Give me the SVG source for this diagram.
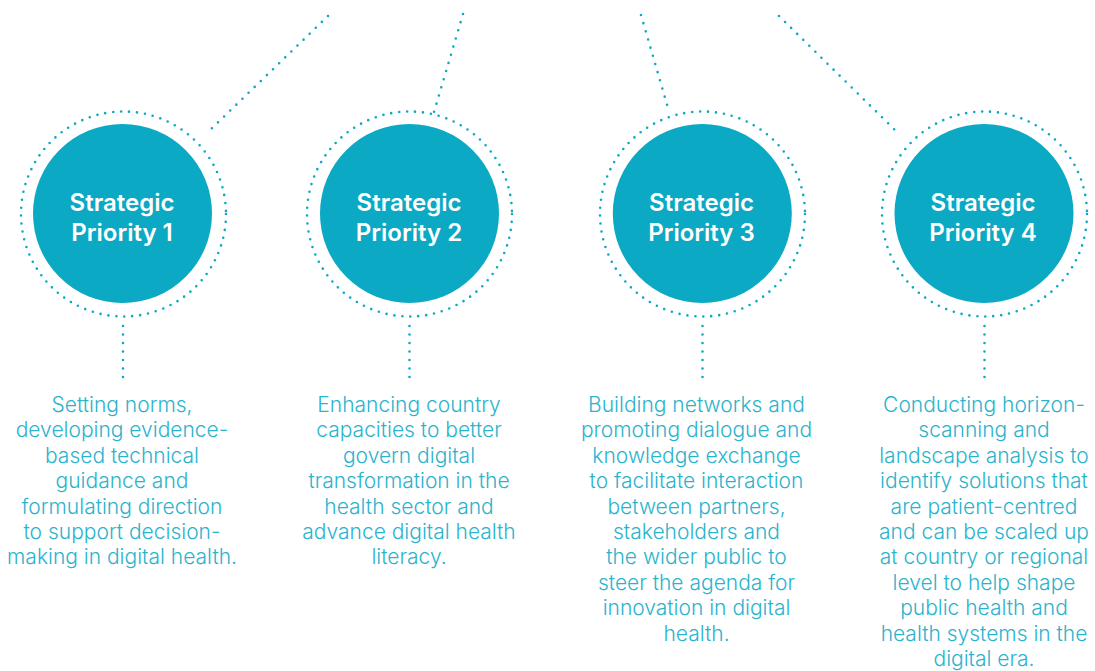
<svg xmlns="http://www.w3.org/2000/svg" width="1095" height="671" viewBox="0 0 1095 671">
<style>
.disc{fill:#0ba9c4}
.ring{fill:none;stroke:#0ba9c4;stroke-width:2.6;stroke-linecap:round;stroke-dasharray:0 8}
.dot{fill:none;stroke:#0ba9c4;stroke-width:2.6;stroke-linecap:round;stroke-dasharray:0 8.5}
.title{font-family:Inter,"Liberation Sans",sans-serif;font-weight:600;font-size:24px;fill:#ffffff;text-anchor:middle}
.body{font-family:Inter,"Liberation Sans",sans-serif;font-weight:300;font-size:21px;fill:#2bb3cd;text-anchor:middle}
</style>
<rect width="1095" height="671" fill="#ffffff"/>
<g id="connectors">
<line class="dot" x1="328" y1="16" x2="207" y2="133"/>
<line class="dot" x1="463" y1="14" x2="434" y2="112"/>
<line class="dot" x1="641" y1="15" x2="668" y2="108"/>
<line class="dot" x1="779" y1="16" x2="899" y2="134"/>
<line class="dot" x1="123" y1="326" x2="123" y2="378"/>
<line class="dot" x1="409.5" y1="326" x2="409.5" y2="378"/>
<line class="dot" x1="702.5" y1="326" x2="702.5" y2="378"/>
<line class="dot" x1="984.5" y1="326" x2="984.5" y2="378"/>
</g>
<g id="sp1">
<circle class="ring" cx="123.5" cy="214" r="102.5"/>
<circle class="disc" cx="122.5" cy="213.5" r="89.5"/>
<text class="title" x="122" y="211">Strategic</text>
<text class="title" x="122" y="240.5">Priority 1</text>
</g>
<g id="sp2">
<circle class="ring" cx="409.5" cy="214" r="102.5"/>
<circle class="disc" cx="409.5" cy="213.5" r="89.5"/>
<text class="title" x="409" y="211">Strategic</text>
<text class="title" x="409" y="240.5">Priority 2</text>
</g>
<g id="sp3">
<circle class="ring" cx="702.5" cy="214" r="102.5"/>
<circle class="disc" cx="702.3" cy="213.5" r="89.5"/>
<text class="title" x="701.5" y="211">Strategic</text>
<text class="title" x="701.5" y="240.5">Priority 3</text>
</g>
<g id="sp4">
<circle class="ring" cx="984.5" cy="214" r="102.5"/>
<circle class="disc" cx="984" cy="213.5" r="89.5"/>
<text class="title" x="983" y="211">Strategic</text>
<text class="title" x="983" y="240.5">Priority 4</text>
</g>
<g id="desc1" class="body">
<text x="122" y="412">Setting norms,</text>
<text x="122" y="437.4">developing evidence-</text>
<text x="122" y="462.8">based technical</text>
<text x="122" y="488.2">guidance and</text>
<text x="122" y="513.6">formulating direction</text>
<text x="122" y="539">to support decision-</text>
<text x="122" y="564.4">making in digital health.</text>
</g>
<g id="desc2" class="body">
<text x="409" y="412">Enhancing country</text>
<text x="409" y="437.4">capacities to better</text>
<text x="409" y="462.8">govern digital</text>
<text x="409" y="488.2">transformation in the</text>
<text x="409" y="513.6">health sector and</text>
<text x="409" y="539">advance digital health</text>
<text x="409" y="564.4">literacy.</text>
</g>
<g id="desc3" class="body">
<text x="696.5" y="412">Building networks and</text>
<text x="696.5" y="437.4">promoting dialogue and</text>
<text x="696.5" y="462.8">knowledge exchange</text>
<text x="696.5" y="488.2">to facilitate interaction</text>
<text x="696.5" y="513.6">between partners,</text>
<text x="696.5" y="539">stakeholders and</text>
<text x="696.5" y="564.4">the wider public to</text>
<text x="696.5" y="589.8">steer the agenda for</text>
<text x="696.5" y="615.2">innovation in digital</text>
<text x="696.5" y="640.6">health.</text>
</g>
<g id="desc4" class="body">
<text x="984" y="412">Conducting horizon-</text>
<text x="984" y="437.4">scanning and</text>
<text x="984" y="462.8">landscape analysis to</text>
<text x="984" y="488.2">identify solutions that</text>
<text x="984" y="513.6">are patient-centred</text>
<text x="984" y="539">and can be scaled up</text>
<text x="984" y="564.4">at country or regional</text>
<text x="984" y="589.8">level to help shape</text>
<text x="984" y="615.2">public health and</text>
<text x="984" y="640.6">health systems in the</text>
<text x="984" y="666">digital era.</text>
</g>
</svg>
